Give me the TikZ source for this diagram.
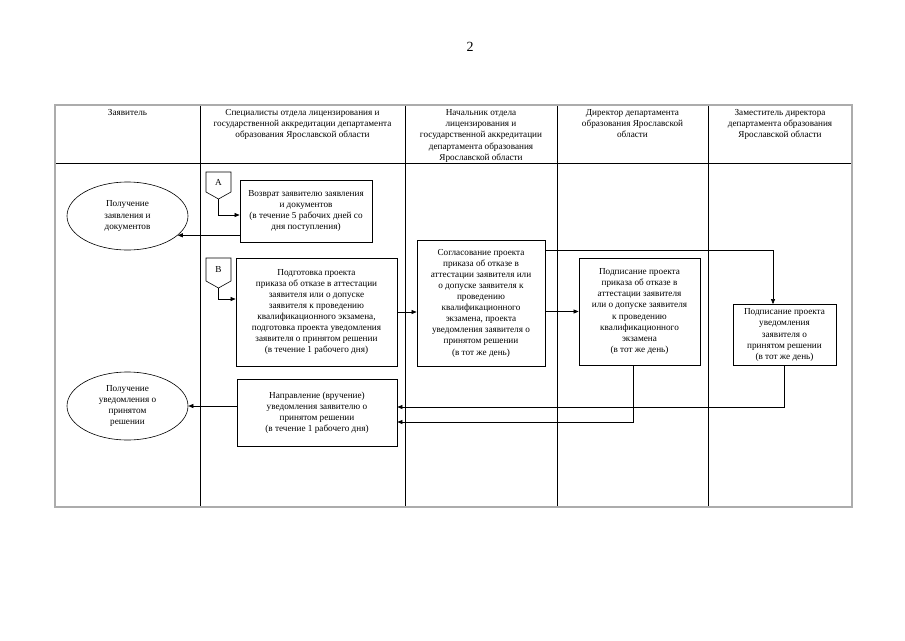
\documentclass[tikz,border=0pt]{standalone}
\usepackage{fontspec}
\setmainfont{Liberation Serif}
\usetikzlibrary{arrows.meta,shapes.geometric}
\tikzset{
  box/.style={draw, line width=0.8pt, align=center, inner sep=2pt},
  oval/.style={draw, ellipse, line width=0.6pt, align=center, inner sep=1pt},
  link/.style={line width=0.6pt, -{Triangle[length=5pt,width=4pt]}},
  tagline/.style={line width=0.6pt},
  gridline/.style={line width=0.5pt},
  frameline/.style={line width=1.2pt, gray!65},
  head/.style={align=center, anchor=north, inner sep=1pt},
}
\begin{document}
\begin{tikzpicture}[x=1pt, y=-1pt, font=\fontsize{9.2}{11.1}\selectfont]
    \useasboundingbox (0,0) rectangle (905,640);

    % номер страницы
    \node (pagenum) at (470,47) {\fontsize{14}{16}\selectfont 2};

    % таблица
    \draw[gridline] (55,163) -- (852,163);
    \foreach \x in {200,405,557,708}
        \draw[gridline] (\x,105) -- (\x,507);
    \draw[frameline] (55,105) rectangle (852,507);

    % заголовки столбцов
    \node[head] (hd1) at (127.5,108.5) {Заявитель};
    \node[head] (hd2) at (302.5,108.5) {Специалисты отдела лицензирования и\\государственной аккредитации департамента\\образования Ярославской области};
    \node[head] (hd3) at (481,108.5) {Начальник отдела\\лицензирования и\\государственной аккредитации\\департамента образования\\Ярославской области};
    \node[head] (hd4) at (632.5,108.5) {Директор департамента\\образования Ярославской\\области};
    \node[head] (hd5) at (780,108.5) {Заместитель директора\\департамента образования\\Ярославской области};

    % овалы
    \node[oval, minimum width=121, minimum height=68] (getdocs) at (127.5,216) {Получение\\заявления и\\документов};
    \node[oval, minimum width=121, minimum height=68] (getnote) at (127.5,406) {Получение\\уведомления о\\принятом\\решении};

    % прямоугольники
    \node[box, minimum width=132, minimum height=62] (ret) at (306,211) {Возврат заявителю заявления\\и документов\\(в течение 5 рабочих дней со\\дня поступления)};
    \node[box, minimum width=161, minimum height=108] (prep) at (316.5,312) {Подготовка проекта\\приказа об отказе в аттестации\\заявителя или о допуске\\заявителя к проведению\\квалификационного экзамена,\\подготовка проекта уведомления\\заявителя о принятом решении\\(в течение 1 рабочего дня)};
    \node[box, minimum width=128, minimum height=126] (agree) at (481,303) {Согласование проекта\\приказа об отказе в\\аттестации заявителя или\\о допуске заявителя к\\проведению\\квалификационного\\экзамена, проекта\\уведомления заявителя о\\принятом решении\\(в тот же день)};
    \node[box, minimum width=121, minimum height=107] (signord) at (639.5,311.5) {Подписание проекта\\приказа об отказе в\\аттестации заявителя\\или о допуске заявителя\\к проведению\\квалификационного\\экзамена\\(в тот же день)};
    \node[box, minimum width=103, minimum height=61] (signnote) at (784.5,335) {Подписание проекта\\уведомления\\заявителя о\\принятом решении\\(в тот же день)};
    \node[box, minimum width=160, minimum height=67] (send) at (317,412.5) {Направление (вручение)\\уведомления заявителю о\\принятом решении\\(в течение 1 рабочего дня)};

    % метки A и B
    \draw[tagline] (206,172) -- (231,172) -- (231,192) -- (218.5,199) -- (206,192) -- cycle;
    \node (tagA) at (218.5,182) {A};
    \coordinate (tipA) at (218.5,199);
    \draw[tagline] (206,258) -- (231,258) -- (231,281) -- (218.5,288) -- (206,281) -- cycle;
    \node (tagB) at (218.5,269) {B};
    \coordinate (tipB) at (218.5,288);

    % стрелки
    \draw[link] (tipA) |- ([yshift=-4pt]ret.west);
    \draw[link] (ret.west |- getdocs.-21) -- (getdocs.-21);
    \draw[link] (tipB) |- ([yshift=13pt]prep.west);
    \draw[link] (prep.east) -- (prep.east -| agree.west);
    \draw[link] ([yshift=53pt]agree.east) -| ([xshift=-11.5pt]signnote.north);
    \draw[link] (agree.east |- signord.west) -- (signord.west);
    \draw[link] ([xshift=-6.5pt]signord.south) |- ([yshift=-9.5pt]send.east);
    \draw[link] (signnote.south) |- ([yshift=5.5pt]send.east);
    \draw[link] (send.west |- getnote.east) -- (getnote.east);
\end{tikzpicture}
\end{document}
